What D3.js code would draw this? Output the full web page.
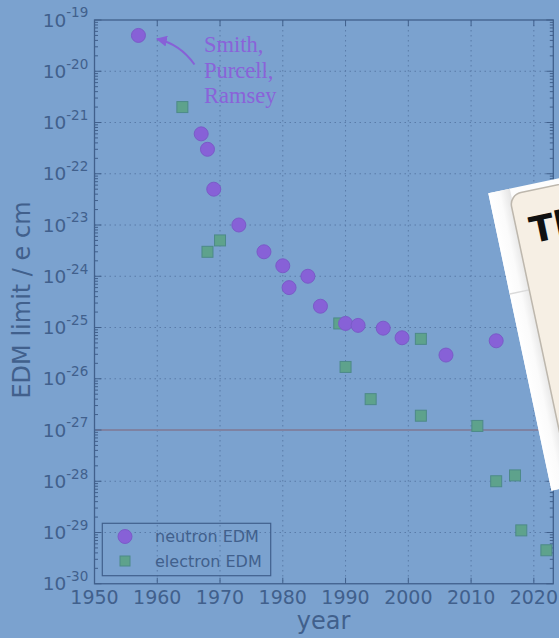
<!DOCTYPE html>
<html>
<head>
<meta charset="utf-8">
<title>EDM limits</title>
<script src="https://cdn.jsdelivr.net/npm/d3@7"></script>
<style>
  html, body { margin: 0; padding: 0; background: #7ba2cf; }
  svg { display: block; }
</style>
</head>
<body>
<div id="chart"></div>
<script>
// neutron EDM limits (year, e cm)
var neutronYears = [1957, 1967, 1968, 1969, 1973, 1977, 1980, 1981, 1984, 1986, 1990, 1992, 1996, 1999, 2006, 2014];
var neutronLimits = [5e-20, 6e-22, 3e-22, 5e-23, 1e-23, 3e-24, 1.6e-24, 6e-25, 1e-24, 2.6e-25, 1.2e-25, 1.1e-25, 9.7e-26, 6.3e-26, 2.9e-26, 5.5e-26];

// electron EDM limits
var electronYears = [1964, 1968, 1970, 1989, 1990, 1994, 2002, 2002, 2011, 2014, 2017, 2018, 2022];
var electronLimits = [2e-21, 3e-24, 5e-24, 1.2e-25, 1.7e-26, 4e-27, 6e-26, 1.9e-27, 1.2e-27, 1e-28, 1.3e-28, 1.1e-29, 4.5e-30];

var xTicks = [1950, 1960, 1970, 1980, 1990, 2000, 2010, 2020];
var yExponents = [-19, -20, -21, -22, -23, -24, -25, -26, -27, -28, -29, -30];
var refLine = 1e-27;
var legendLabels = ["neutron EDM", "electron EDM"];
var noteLines = ["Smith,", "Purcell,", "Ramsey"];

var W = 559, H = 638;
var ink = "#41608c";
var purple = "#8761d7";
var green = "#5ea28c";

var svg = d3.select("#chart").append("svg")
    .attr("width", W).attr("height", H);

svg.append("rect").attr("width", W).attr("height", H).attr("fill", "#7ba2cf");

var pLeft = 94.5, pRight = 553.3, pTop = 20, pBottom = 583.75;

var x = d3.scaleLinear().domain([1950, 2023.1]).range([pLeft, pRight]);
var y = d3.scaleLog().domain([1e-19, 1e-30]).range([pTop, pBottom]);

// grid
var grid = svg.append("g").attr("stroke", "#5a7ba8").attr("stroke-width", 1)
    .attr("stroke-dasharray", "1.5,3.5");
xTicks.slice(1).forEach(function (t) {
    grid.append("line").attr("x1", x(t)).attr("x2", x(t)).attr("y1", pTop).attr("y2", pBottom);
});
yExponents.slice(1, -1).forEach(function (e) {
    grid.append("line").attr("x1", pLeft).attr("x2", pRight)
        .attr("y1", y(Math.pow(10, e))).attr("y2", y(Math.pow(10, e)));
});

// reference line
svg.append("line")
    .attr("x1", pLeft + 1).attr("x2", pRight - 1)
    .attr("y1", y(refLine)).attr("y2", y(refLine))
    .attr("stroke", "#7e82a2").attr("stroke-width", 2);

// ticks
var ticks = svg.append("g").attr("stroke", ink).attr("stroke-width", 1);
xTicks.forEach(function (t) {
    ticks.append("line").attr("x1", x(t)).attr("x2", x(t)).attr("y1", pBottom).attr("y2", pBottom - 6);
    ticks.append("line").attr("x1", x(t)).attr("x2", x(t)).attr("y1", pTop).attr("y2", pTop + 6);
});
yExponents.forEach(function (e, i) {
    var v = Math.pow(10, e);
    ticks.append("line").attr("x1", pLeft).attr("x2", pLeft + 7).attr("y1", y(v)).attr("y2", y(v));
    ticks.append("line").attr("x1", pRight).attr("x2", pRight - 7).attr("y1", y(v)).attr("y2", y(v));
    if (i < yExponents.length - 1) {
        for (var m = 2; m < 10; m++) {
            var mv = v * m / 10;
            ticks.append("line").attr("x1", pLeft).attr("x2", pLeft + 3.5).attr("y1", y(mv)).attr("y2", y(mv));
            ticks.append("line").attr("x1", pRight).attr("x2", pRight - 3.5).attr("y1", y(mv)).attr("y2", y(mv));
        }
    }
});

// frame
svg.append("rect")
    .attr("x", pLeft).attr("y", pTop)
    .attr("width", pRight - pLeft).attr("height", pBottom - pTop)
    .attr("fill", "none").attr("stroke", ink).attr("stroke-width", 1.3);

// tick labels
svg.selectAll("text.xt").data(xTicks).enter().append("text")
    .attr("x", function (d) { return x(d); })
    .attr("y", 604)
    .attr("text-anchor", "middle")
    .attr("font-family", "DejaVu Sans")
    .attr("font-size", 19)
    .attr("fill", ink)
    .text(function (d) { return d; });

yExponents.forEach(function (e) {
    var t = svg.append("text")
        .attr("x", 88.3).attr("y", y(Math.pow(10, e)) + 6.7)
        .attr("text-anchor", "end")
        .attr("font-family", "DejaVu Sans")
        .attr("font-size", 18.5)
        .attr("fill", ink);
    t.append("tspan").text("10");
    t.append("tspan").attr("dy", -9.4).attr("font-size", 13.5).text(String(e));
});

// axis labels
svg.append("text")
    .attr("x", 323.5).attr("y", 629)
    .attr("text-anchor", "middle")
    .attr("font-family", "DejaVu Sans")
    .attr("font-size", 24)
    .attr("fill", ink)
    .text("year");

svg.append("text")
    .attr("transform", "translate(30,300) rotate(-90)")
    .attr("text-anchor", "middle")
    .attr("font-family", "DejaVu Sans")
    .attr("font-size", 24)
    .attr("fill", ink)
    .text("EDM limit / e cm");

// data
svg.selectAll("rect.e").data(electronYears).enter().append("rect")
    .attr("x", function (d) { return x(d) - 5.5; })
    .attr("y", function (d, i) { return y(electronLimits[i]) - 5.5; })
    .attr("width", 11).attr("height", 11)
    .attr("fill", green).attr("stroke", "#4d8a88").attr("stroke-width", 1);

svg.selectAll("circle.n").data(neutronYears).enter().append("circle")
    .attr("cx", function (d) { return x(d); })
    .attr("cy", function (d, i) { return y(neutronLimits[i]); })
    .attr("r", 7)
    .attr("fill", purple).attr("stroke", "#7a5bc8").attr("stroke-width", 1);

// annotation
var defs = svg.append("defs");
defs.append("marker")
    .attr("id", "head").attr("viewBox", "0 0 10 10")
    .attr("refX", 9).attr("refY", 5)
    .attr("markerWidth", 11).attr("markerHeight", 11)
    .attr("markerUnits", "userSpaceOnUse")
    .attr("orient", "auto")
    .append("path").attr("d", "M0,0L10,5L0,10Z").attr("fill", purple);

svg.append("path")
    .attr("d", "M194.5,64.5Q180,44 157,39")
    .attr("fill", "none").attr("stroke", purple).attr("stroke-width", 2)
    .attr("marker-end", "url(#head)");

svg.selectAll("text.note").data(noteLines).enter().append("text")
    .attr("x", 204)
    .attr("y", function (d, i) { return 52 + i * 25.7; })
    .attr("font-family", "Liberation Serif")
    .attr("font-size", 22.5)
    .attr("fill", "#8a63d9")
    .text(function (d) { return d; });

// legend
var lg = svg.append("g");
lg.append("rect").attr("x", 102.3).attr("y", 523.3).attr("width", 168.4).attr("height", 52.4)
    .attr("fill", "none").attr("stroke", ink).attr("stroke-width", 1.2);
lg.append("circle").attr("cx", 125).attr("cy", 536.5).attr("r", 7)
    .attr("fill", purple).attr("stroke", "#7a5bc8");
lg.append("rect").attr("x", 120).attr("y", 556).attr("width", 10).attr("height", 10)
    .attr("fill", green).attr("stroke", "#4d8a88");
lg.selectAll("text").data(legendLabels).enter().append("text")
    .attr("x", 155)
    .attr("y", function (d, i) { return 542 + i * 24.5; })
    .attr("font-family", "DejaVu Sans")
    .attr("font-size", 16)
    .attr("fill", ink)
    .text(function (d) { return d; });

// overlapping card
var gr = defs.append("linearGradient").attr("id", "frameGrad")
    .attr("x1", 0).attr("x2", 1).attr("y1", 0).attr("y2", 0);
gr.append("stop").attr("offset", 0).attr("stop-color", "#ffffff");
gr.append("stop").attr("offset", 0.5).attr("stop-color", "#fbfbfb");
gr.append("stop").attr("offset", 1).attr("stop-color", "#e4e4e4");

var card = svg.append("g").attr("transform", "translate(488.3,193.3) rotate(-12)");
card.append("rect").attr("width", 400).attr("height", 304).attr("fill", "#fdfdfd");
card.append("rect").attr("width", 22).attr("height", 304).attr("fill", "url(#frameGrad)");
card.append("line").attr("x1", 0).attr("x2", 20).attr("y1", 103).attr("y2", 103)
    .attr("stroke", "#dadada").attr("stroke-width", 1.5);
card.append("rect").attr("x", 20).attr("y", 6).attr("width", 380).attr("height", 290)
    .attr("rx", 12).attr("fill", "#f6efe4").attr("stroke", "#bdb7ad").attr("stroke-width", 1.5);
card.append("text").attr("x", 33).attr("y", 58)
    .attr("font-family", "DejaVu Sans").attr("font-weight", "bold")
    .attr("font-size", 36).attr("fill", "#111")
    .text("Th");
</script>
</body>
</html>
